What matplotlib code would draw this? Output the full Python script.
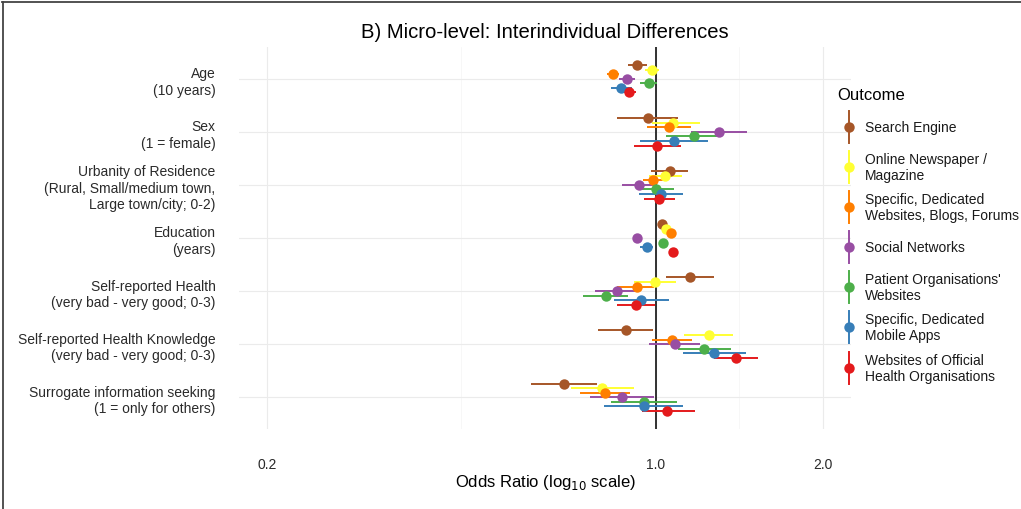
import numpy as np
import matplotlib
matplotlib.use("Agg")
import matplotlib.pyplot as plt
from matplotlib.lines import Line2D

plt.rcParams['font.family'] = ['Liberation Sans', 'DejaVu Sans']

predictors = [
    "Age\n(10 years)",
    "Sex\n(1 = female)",
    "Urbanity of Residence\n(Rural, Small/medium town,\nLarge town/city; 0-2)",
    "Education\n(years)",
    "Self-reported Health\n(very bad - very good; 0-3)",
    "Self-reported Health Knowledge\n(very bad - very good; 0-3)",
    "Surrogate information seeking\n(1 = only for others)",
]

outcomes = [
    "Search Engine",
    "Online Newspaper /\nMagazine",
    "Specific, Dedicated\nWebsites, Blogs, Forums",
    "Social Networks",
    "Patient Organisations'\nWebsites",
    "Specific, Dedicated\nMobile Apps",
    "Websites of Official\nHealth Organisations",
]
colors = ["#A65628", "#FFFF33", "#FF7F00", "#984EA3", "#4DAF4A", "#377EB8", "#E41A1C"]

# odds ratios: rows = predictors, columns = outcomes
odds_ratio = np.array([
    [0.927, 0.984, 0.837, 0.888, 0.971, 0.868, 0.895],
    [0.967, 1.076, 1.057, 1.300, 1.172, 1.077, 1.007],
    [1.060, 1.041, 0.990, 0.932, 1.001, 1.021, 1.015],
    [1.028, 1.042, 1.064, 0.927, 1.032, 0.963, 1.073],
    [1.153, 0.996, 0.924, 0.851, 0.814, 0.942, 0.921],
    [0.883, 1.247, 1.071, 1.082, 1.221, 1.275, 1.394],
    [0.684, 0.802, 0.811, 0.871, 0.953, 0.953, 1.050],
])
ci_low = np.array([
    [0.892, 0.955, 0.816, 0.860, 0.937, 0.830, 0.872],
    [0.853, 0.986, 0.966, 1.159, 1.044, 0.936, 0.914],
    [0.979, 0.973, 0.950, 0.869, 0.933, 0.933, 0.953],
    [1.012, 1.027, 1.048, 0.912, 1.016, 0.937, 1.057],
    [1.042, 0.914, 0.853, 0.777, 0.741, 0.841, 0.851],
    [0.788, 1.124, 0.986, 0.974, 1.097, 1.118, 1.273],
    [0.598, 0.703, 0.731, 0.762, 0.830, 0.807, 0.946],
])
ci_high = np.array([
    [0.966, 1.014, 0.859, 0.919, 1.007, 0.905, 0.923],
    [1.097, 1.200, 1.156, 1.458, 1.318, 1.242, 1.109],
    [1.145, 1.117, 1.035, 0.993, 1.079, 1.118, 1.082],
    [1.044, 1.057, 1.080, 0.942, 1.048, 0.990, 1.089],
    [1.273, 1.089, 0.993, 0.921, 0.893, 1.057, 0.996],
    [0.990, 1.379, 1.164, 1.201, 1.364, 1.456, 1.527],
    [0.783, 0.914, 0.899, 0.993, 1.094, 1.120, 1.175],
])

x_breaks = [0.2, 1.0, 2.0]
x_labels = ["0.2", "1.0", "2.0"]

W, H = 1021, 510
fig = plt.figure(figsize=(W / 100, H / 100), dpi=100)
ax = fig.add_axes([239 / W, (H - 430) / H, (851 - 239) / W, (430 - 48) / H])

# log10 x scale with 5% expansion around 0.2 .. 2.0
lo, hi = np.log10(0.2), np.log10(2.0)
pad = 0.05 * (hi - lo)
ax.set_xscale("log")
ax.set_xlim(10 ** (lo - pad), 10 ** (hi + pad))
ax.set_ylim(len(predictors) - 1 + 0.6, -0.6)

grid_col = "#EBEBEB"
for b in x_breaks:
    ax.axvline(b, color=grid_col, lw=0.8, zorder=0)
for m in [np.sqrt(0.2 * 1.0), np.sqrt(1.0 * 2.0)]:
    ax.axvline(m, color="#F4F4F4", lw=0.5, zorder=0)
for i in range(len(predictors)):
    ax.axhline(i, color=grid_col, lw=0.8, zorder=0)

ax.axvline(1.0, color="#222222", lw=1.3, zorder=1)

n = len(outcomes)
dodge = 0.6 / n
for j in range(n):
    y = np.arange(len(predictors)) + (j - (n - 1) / 2) * dodge
    ax.hlines(y, ci_low[:, j], ci_high[:, j], color=colors[j], lw=1.4, zorder=2)
    ax.plot(odds_ratio[:, j], y, "o", color=colors[j], ms=7.5, mec="none", zorder=3)

for s in ax.spines.values():
    s.set_visible(False)
ax.tick_params(length=0)
ax.set_xticks(x_breaks)
ax.set_xticklabels(x_labels, fontsize=10, color="#2a2a2a")
ax.xaxis.set_minor_locator(matplotlib.ticker.NullLocator())
ax.set_yticks(range(len(predictors)))
ax.set_yticklabels(predictors, fontsize=10, color="#2a2a2a", ha="right",
                   multialignment="right", linespacing=1.2)
ax.tick_params(axis="y", pad=17)
ax.tick_params(axis="x", pad=20)

ax.set_xlabel("Odds Ratio (log$_{10}$ scale)", fontsize=12, labelpad=1)
fig.text(545 / W, 1 - 32 / H, "B) Micro-level: Interindividual Differences",
         ha="center", va="center", fontsize=14.6)

# legend
fig.text(837 / W, 1 - 96 / H, "Outcome", ha="left", va="center", fontsize=12)
leg_y = [128, 168, 208, 248, 288, 328, 369]
for j, lab in enumerate(outcomes):
    yc = leg_y[j]
    fig.add_artist(Line2D([849 / W, 849 / W], [1 - (yc - 16) / H, 1 - (yc + 16) / H],
                          color=colors[j], lw=1.4, transform=fig.transFigure))
    fig.add_artist(Line2D([849 / W], [1 - yc / H], marker="o", ms=7.5, mec="none",
                          color=colors[j], transform=fig.transFigure))
    fig.text(865 / W, 1 - yc / H, lab, ha="left", va="center", fontsize=10,
             color="#1a1a1a", linespacing=1.2)

# frame lines on the top and left edges
fig.add_artist(Line2D([2 / W, 1], [1 - 3 / H, 1 - 3 / H], color="#444444", lw=1.3,
                      transform=fig.transFigure))
fig.add_artist(Line2D([2.5 / W, 2.5 / W], [0, 1 - 3 / H], color="#444444", lw=1.3,
                      transform=fig.transFigure))

fig.savefig("out.png", dpi=100)
